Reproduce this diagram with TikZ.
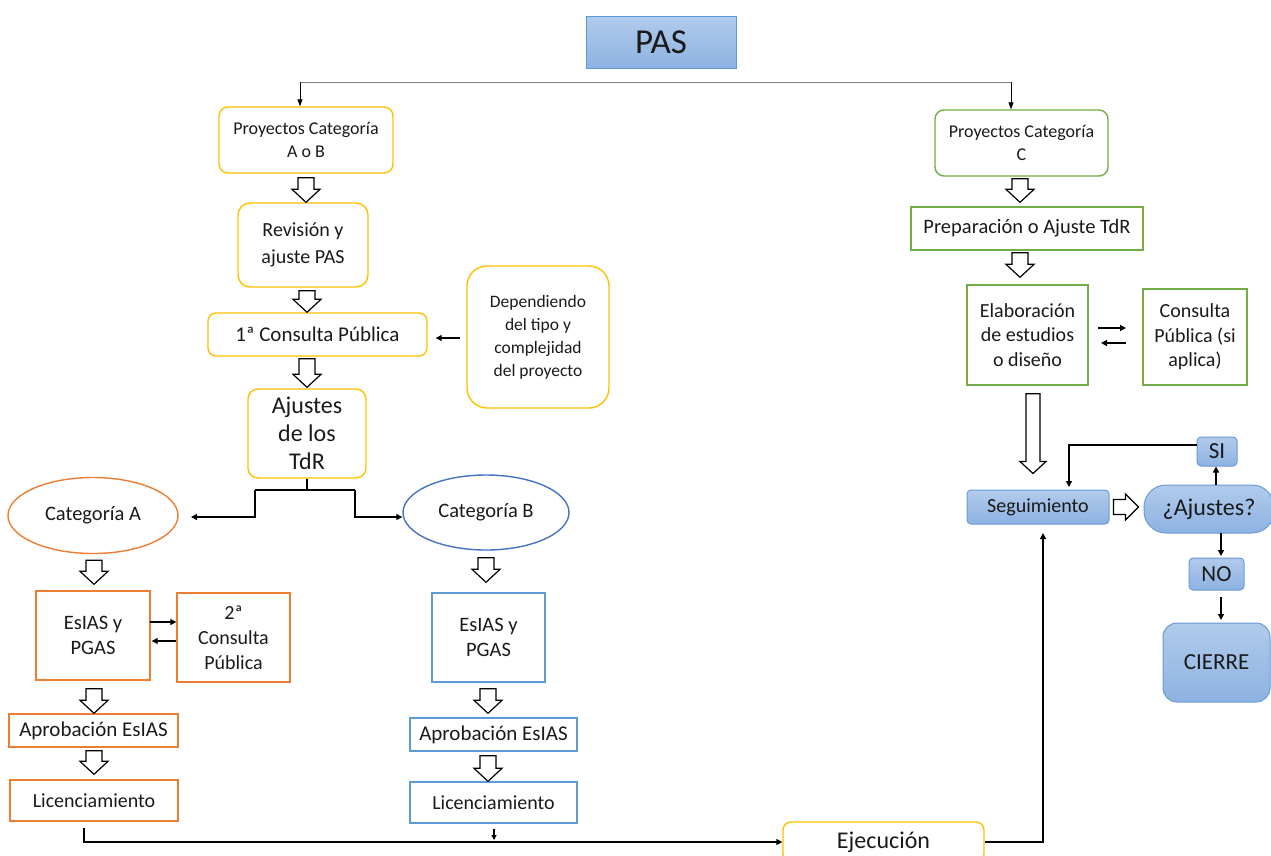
\documentclass[tikz,border=0pt]{standalone}
\usepackage{fontspec}
\setmainfont{Carlito}
\usetikzlibrary{shapes.geometric,calc,arrows.meta}
\definecolor{cyel}{HTML}{FFC000}
\definecolor{corg}{HTML}{ED7D31}
\definecolor{cblu}{HTML}{4472C4}
\definecolor{clbl}{HTML}{5B9BD5}
\definecolor{cgrn}{HTML}{70AD47}
\definecolor{btop}{HTML}{B1CBEB}
\definecolor{bbot}{HTML}{8DB2E2}
\definecolor{bbrd}{HTML}{6A9BD3}
\definecolor{txt}{HTML}{1A1A1A}
% block arrow down: x, from, to, gaptop, gapbottom, shafthalf, headhalf, headlen
\newcommand\bdown[8]{%
  \draw[blk] let \p1=(#2.south), \p2=(#3.north) in
    ({#1pt-#6pt},{\y1-#4pt}) -- ({#1pt+#6pt},{\y1-#4pt}) --
    ({#1pt+#6pt},{\y2+#5pt+#8pt}) -- ({#1pt+#7pt},{\y2+#5pt+#8pt}) --
    ({#1pt},{\y2+#5pt}) -- ({#1pt-#7pt},{\y2+#5pt+#8pt}) --
    ({#1pt-#6pt},{\y2+#5pt+#8pt}) -- cycle;}
% block arrow right: from, to, gapleft, gapright, shafthalf, headhalf, headlen
\newcommand\bright[7]{%
  \draw[blk] let \p1=(#1.east), \p2=(#2.west) in
    ({\x1+#3pt},{\y1+#5pt}) -- ({\x1+#3pt},{\y1-#5pt}) --
    ({\x2-#4pt-#7pt},{\y1-#5pt}) -- ({\x2-#4pt-#7pt},{\y1-#6pt}) --
    ({\x2-#4pt},{\y1}) -- ({\x2-#4pt-#7pt},{\y1+#6pt}) --
    ({\x2-#4pt-#7pt},{\y1+#5pt}) -- cycle;}
\begin{document}
\begin{tikzpicture}[x=1pt,y=-1pt,
  every node/.style={align=center, inner sep=0pt, text=txt},
  ybox/.style={draw=cyel, line width=1.4pt, rounded corners=#1},
  ybox/.default=9pt,
  obox/.style={draw=corg, line width=1.4pt},
  lbox/.style={draw=clbl, line width=1.4pt},
  gbox/.style={draw=cgrn, line width=1.4pt},
  bbox/.style={draw=bbrd, line width=1pt, top color=btop, bottom color=bbot, rounded corners=#1},
  bbox/.default=4pt,
  blk/.style={draw=black, line width=1.2pt, fill=white, line join=miter},
  arr/.style={draw=black, line width=1.3pt, -{Triangle[length=6pt,width=6pt]}},
  tarr/.style={draw=black, line width=0.8pt, -{Triangle[length=7pt,width=5pt]}},
  fs/.style 2 args={font=\fontsize{#1}{#2}\selectfont}
]
\useasboundingbox (0,0) rectangle (1271,855);

% ---------- top
\node[draw=clbl, line width=1pt, top color=btop, bottom color=bbot, minimum width=150pt, minimum height=52pt, fs={35}{40}] (pas) at (661,42) {PAS};

\node[ybox, minimum width=174pt, minimum height=66pt, fs={18}{23}] (pab) at (306,140) {Proyectos Categoría\\A o B};
\node[draw=cgrn, line width=1.4pt, rounded corners=9pt, minimum width=173pt, minimum height=66pt, fs={18}{23}] (pc) at (1021.5,143) {Proyectos Categoría\\C};

\coordinate (tl) at (300,82);
\coordinate (tr) at (1011,82);
\draw[gray, line width=1pt] (tl) -- (tr);
\draw[tarr] (tl) -- (tl |- pab.north);
\draw[tarr] (tr) -- (tr |- pc.north);

% ---------- left upper column
\node[ybox=12pt, minimum width=130pt, minimum height=84pt, fs={20}{27}] (rev) at (303,245) {Revisión y\\ajuste PAS};
\node[ybox=8pt, minimum width=219pt, minimum height=43pt, fs={21}{24}] (c1) at (317.5,334.5) {1ª Consulta Pública};
\node[ybox=20pt, minimum width=142pt, minimum height=142pt, fs={17.5}{23}] (dep) at (538,337) {Dependiendo\\del tipo y\\complejidad\\del proyecto};
\node[ybox=10pt, minimum width=118pt, minimum height=89pt, fs={24}{28}] (aj) at (307,433.5) {Ajustes\\de los\\TdR};

\bdown{306}{pab}{rev}{4}{0}{8}{14}{13}
\bdown{307}{rev}{c1}{3}{0}{8}{14}{13}
\bdown{307}{c1}{aj}{2}{1}{8}{14}{13}

\coordinate (da) at (460,338);
\draw[arr] (da) -- ($(c1.east |- da)+(8,0)$);
% ---------- categories
\node[ellipse, draw=corg, line width=1.4pt, minimum width=170pt, minimum height=76pt, fs={20.5}{24}] (catA) at (93,515.5) {Categoría A};
\node[ellipse, draw=cblu, line width=1.4pt, minimum width=166pt, minimum height=75pt, fs={20.5}{24}] (catB) at (486,512.5) {Categoría B};

\coordinate (s0) at (307,490);
\coordinate (sl) at (255,490);
\coordinate (sr) at (355,490);
\coordinate (al) at (255,517);
\coordinate (ar) at (355,517);
\coordinate (alt) at (191,517);
\draw[line width=1.3pt] (aj.south) -- (s0);
\draw[line width=1.3pt] (sl) -- (sr);
\draw[arr] (sl) -- (al) -- (alt);
\draw[arr] (sr) -- (ar) -- (ar -| catB.west);

% ---------- category A column
\node[obox, minimum width=114pt, minimum height=89pt, fs={20.5}{25}] (eA) at (93,635.5) {EsIAS y\\PGAS};
\node[obox, minimum width=113pt, minimum height=89pt, fs={20}{25}] (c2) at (233.5,637.5) {2ª\\Consulta\\Pública};
\node[obox, minimum width=169pt, minimum height=33pt, fs={21}{24}] (apA) at (93.5,730.5) {Aprobación EsIAS};
\node[obox, minimum width=168pt, minimum height=41pt, fs={20}{24}] (liA) at (94,800.5) {Licenciamiento};

\bdown{94}{catA}{eA}{6}{6}{8}{14}{13}
\bdown{94}{eA}{apA}{8}{0}{8}{14}{13}
\bdown{94}{apA}{liA}{3}{5}{8}{14}{13}

\coordinate (q1) at (150,622);
\coordinate (q2) at (176,641);
\draw[arr] (q1) -- (q1 -| c2.west);
\draw[arr] (q2) -- ($(q2 -| eA.east)+(1,0)$);

% ---------- category B column
\node[lbox, minimum width=113pt, minimum height=89pt, fs={20.5}{25}] (eB) at (488.5,637.5) {EsIAS y\\PGAS};
\node[lbox, minimum width=167pt, minimum height=33pt, fs={21}{24}] (apB) at (493.5,734.5) {Aprobación EsIAS};
\node[lbox, minimum width=167pt, minimum height=41pt, fs={20}{24}] (liB) at (493.5,802.5) {Licenciamiento};

\bdown{486}{catB}{eB}{7}{10}{8}{14}{13}
\bdown{488}{eB}{apB}{6}{4}{8}{14}{13}
\bdown{488}{apB}{liB}{4}{0}{8}{14}{13}

% ---------- Ejecucion
\node[ybox=8pt, minimum width=201pt, minimum height=40pt, fs={24}{26}] (ej) at (883.5,842) {Ejecución};

\coordinate (b0) at (84,828);
\coordinate (b1) at (84,842);
\coordinate (bb0) at (494,829);
\coordinate (bb1) at (494,840);
\draw[arr] (b0) -- (b1) -- (ej.west |- b1);
\draw[arr, -{Triangle[length=5pt,width=5pt]}] (bb0) -- (bb1);

% ---------- right column
\node[gbox, minimum width=232pt, minimum height=43pt, fs={20.5}{24}] (prep) at (1027,228.5) {Preparación o Ajuste TdR};
\node[gbox, minimum width=121pt, minimum height=100pt, fs={20}{24.5}] (ela) at (1027.5,335) {Elaboración\\de estudios\\o diseño};
\node[gbox, minimum width=104pt, minimum height=96pt, fs={20}{24.5}] (cp) at (1195,337) {Consulta\\Pública (si\\aplica)};

\bdown{1020}{pc}{prep}{2}{4}{8}{14}{13}
\bdown{1020}{prep}{ela}{2}{7}{8}{14}{13}

\coordinate (r1) at (1098,328);
\coordinate (r2) at (1126,328);
\coordinate (r3) at (1126,343);
\coordinate (r4) at (1101,343);
\draw[arr] (r1) -- (r2);
\draw[arr] (r3) -- (r4);

\node[bbox, minimum width=142pt, minimum height=34pt, fs={20}{24}] (seg) at (1038,507) {Seguimiento};
\node[bbox=22pt, minimum width=130pt, minimum height=48pt, fs={24}{26}] (ajs) at (1209,509) {¿Ajustes?};
\node[bbox, minimum width=40pt, minimum height=29pt, fs={23}{25}] (si) at (1217,451.5) {SI};
\node[bbox, minimum width=55pt, minimum height=32pt, fs={23}{25}] (no) at (1216.5,574) {NO};
\node[bbox=14pt, minimum width=107pt, minimum height=79pt, fs={23}{25}] (cierre) at (1216.5,662.5) {CIERRE};

\bdown{1033}{ela}{seg}{8}{16}{7}{13}{12}
\bright{seg}{ajs}{4}{5}{7.5}{13}{13}

\coordinate (u1) at (1216,485);
\draw[arr] (u1) -- (u1 |- si.south);
\coordinate (n1) at (1221,533);
\coordinate (n2) at (1221,556);
\draw[arr] (n1) -- (n2);
\coordinate (n3) at (1221,597);
\coordinate (n4) at (1221,620);
\draw[arr] (n3) -- (n4);
\coordinate (k1) at (1069,445);
\coordinate (k2) at (1069,487);
\draw[arr] (si.west |- k1) -- (k1) -- (k2);

\coordinate (e1) at (1043,842);
\coordinate (e2) at (1043,533);
\draw[arr] (ej.east |- e1) -- (e1) -- (e2);
\end{tikzpicture}
\end{document}
